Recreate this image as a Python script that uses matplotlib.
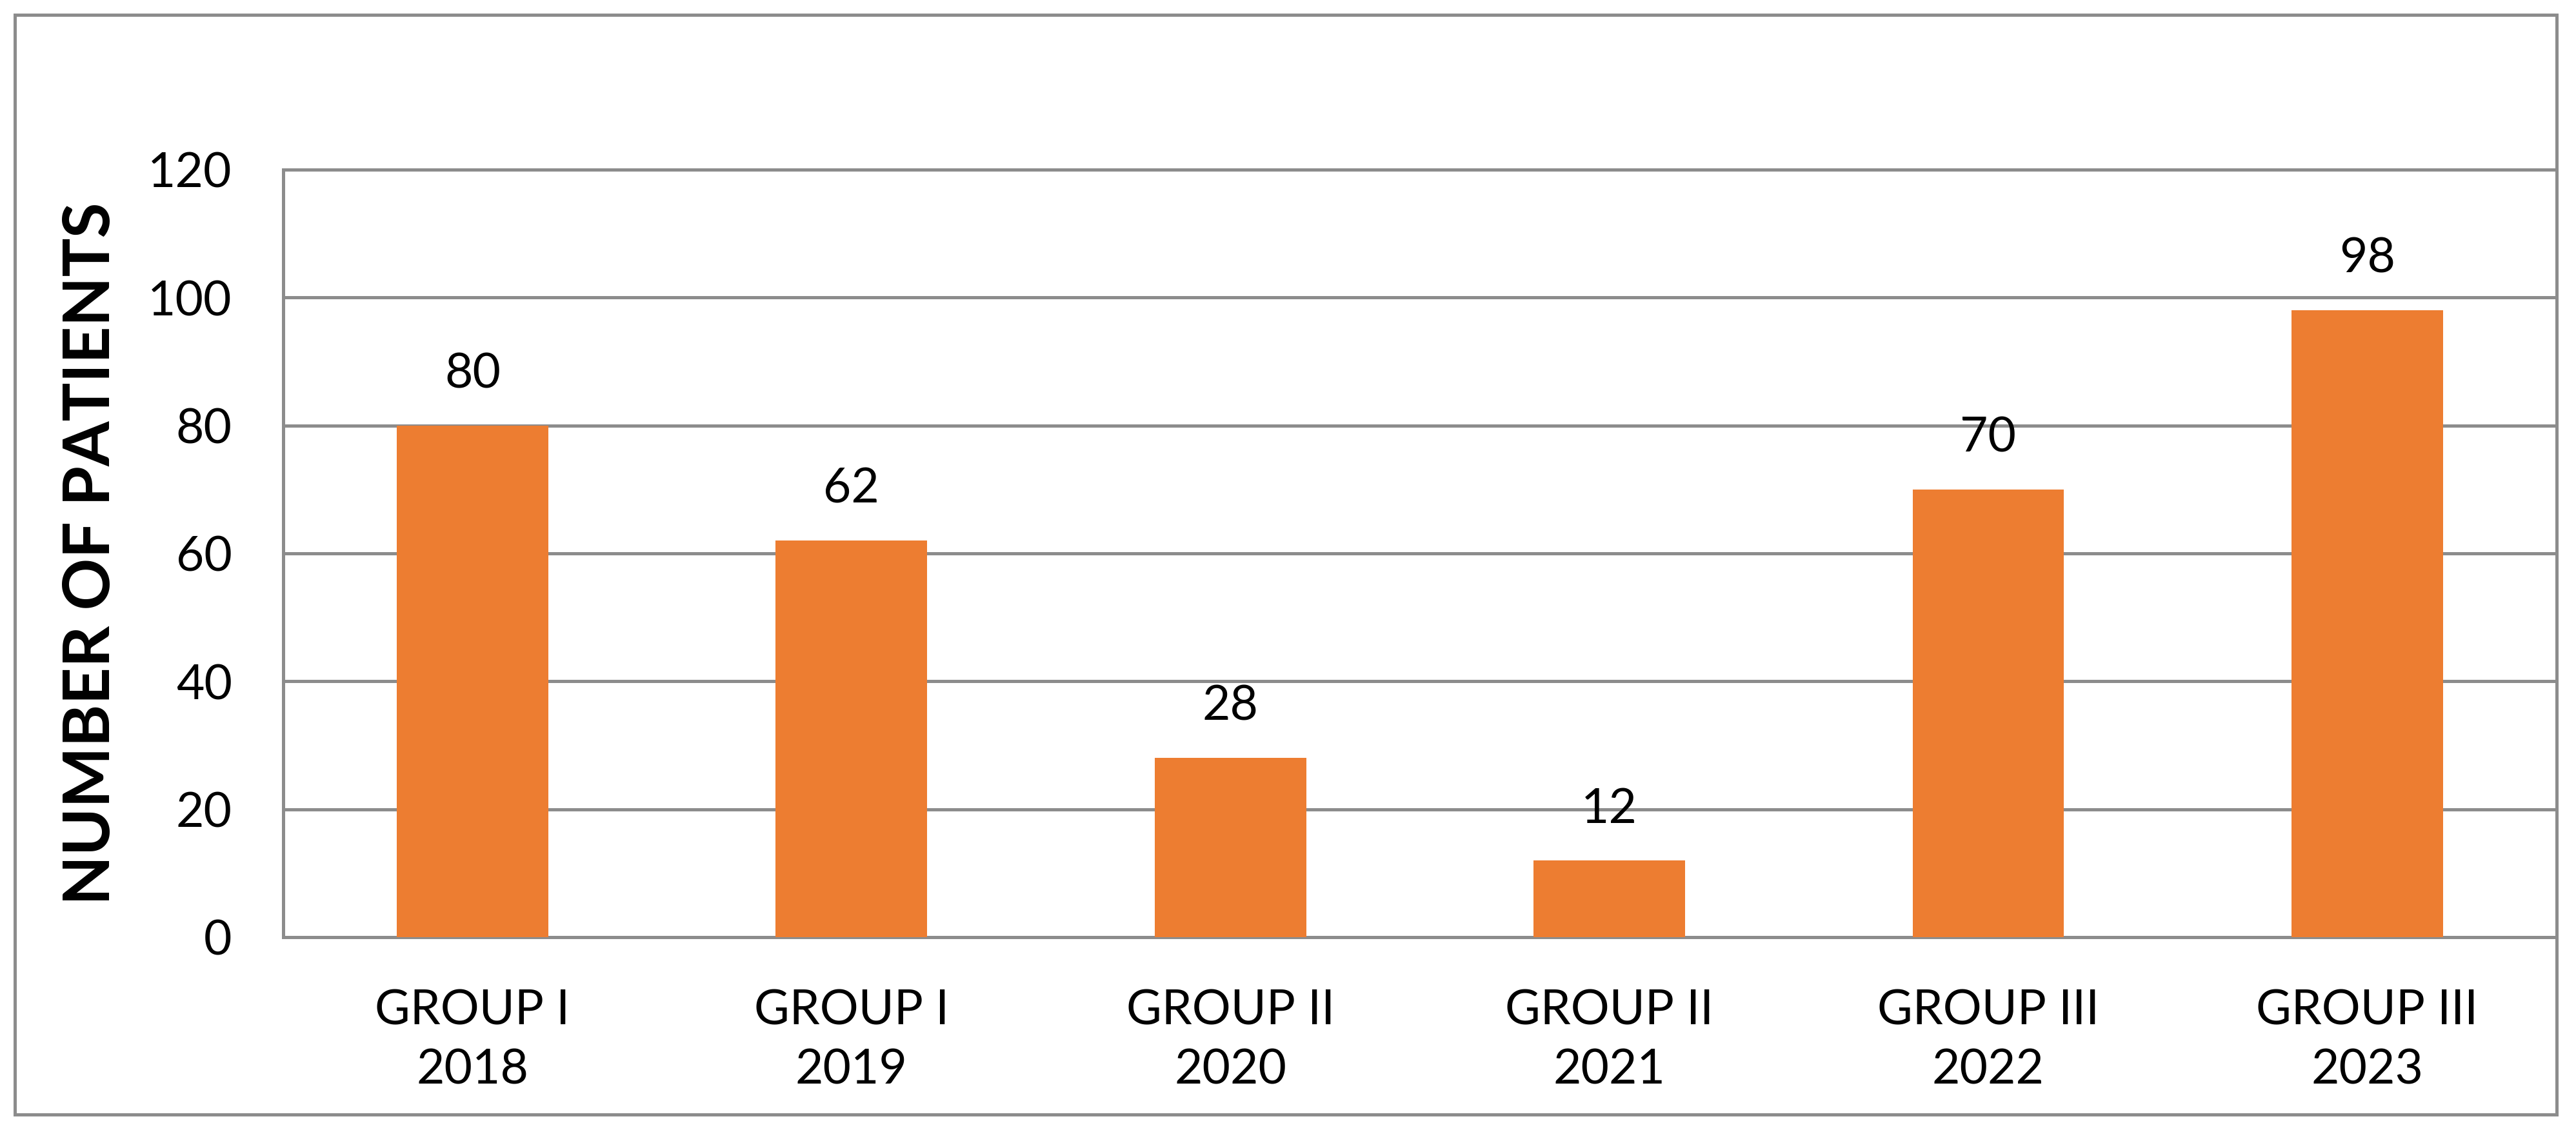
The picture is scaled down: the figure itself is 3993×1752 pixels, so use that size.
import matplotlib.pyplot as plt
import numpy as np
from matplotlib.patches import Rectangle

# Data
groups = ["GROUP I", "GROUP I", "GROUP II", "GROUP II", "GROUP III", "GROUP III"]
years = ["2018", "2019", "2020", "2021", "2022", "2023"]
patients = [80, 62, 28, 12, 70, 98]

bar_color = "#ED7D31"
grid_color = "#8C8C8C"

plt.rcParams["font.family"] = ["Lato", "DejaVu Sans"]

fig = plt.figure(figsize=(13.31, 5.84), dpi=300)
ax = fig.add_axes([0.1099, 0.1707, 0.9925 - 0.1099, 0.8499 - 0.1707])

x = np.arange(len(patients))
labels = [f"{g}\n{y}" for g, y in zip(groups, years)]
bars = ax.bar(x, patients, width=0.4, color=bar_color, zorder=3)

# value labels above bars
for xi, v in zip(x, patients):
    ax.annotate(str(v), (xi, v), xytext=(0, 14), textcoords="offset points",
                ha="center", va="baseline", fontsize=18, color="black")

ax.set_xlim(-0.5, len(patients) - 0.5)
ax.set_ylim(0, 120)
ax.set_yticks(np.arange(0, 121, 20))
ax.set_xticks(x)
ax.set_xticklabels(labels, fontsize=18, linespacing=1.42)
ax.tick_params(axis="y", labelsize=18, length=0, pad=19)
ax.tick_params(axis="x", length=0, pad=19)

ax.grid(axis="y", color=grid_color, linewidth=1.2, zorder=0)
for s in ax.spines.values():
    s.set_color(grid_color)
    s.set_linewidth(1.2)

fig.text(142 / 3993, 0.5 * (0.1707 + 0.8499), "NUMBER OF PATIENTS", rotation=90,
         ha="center", va="center", fontsize=24, fontweight="bold")

# outer chart border
fig.patches.append(Rectangle((0.0058, 0.0137), 0.9925 - 0.0058, 0.9869 - 0.0137,
                             transform=fig.transFigure, fill=False,
                             edgecolor=grid_color, linewidth=1.2))

fig.savefig("out.png", dpi=300, facecolor="white")
